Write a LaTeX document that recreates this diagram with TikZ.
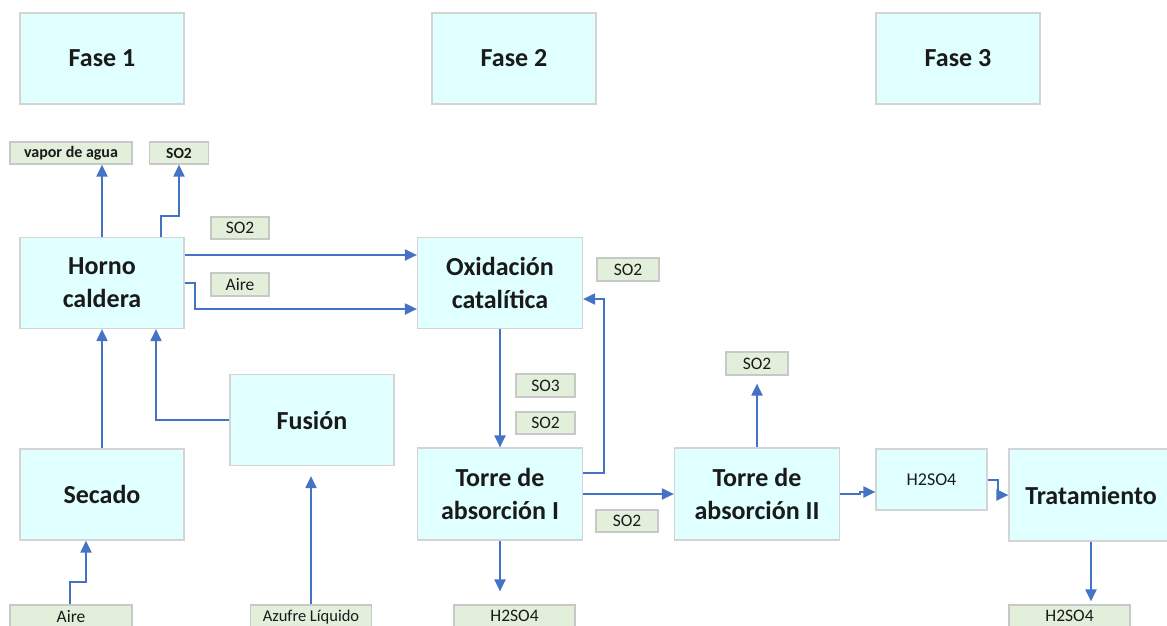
\documentclass[tikz,border=0pt]{standalone}
\usepackage{fontspec}
\setmainfont{Carlito}
\usetikzlibrary{arrows.meta}
\definecolor{boxfill}{HTML}{E0FFFF}
\definecolor{boxline}{HTML}{D4D4D4}
\definecolor{labfill}{HTML}{E2EFDA}
\definecolor{labline}{HTML}{C8C8C8}
\definecolor{arrblue}{HTML}{4472C4}
\definecolor{txt}{HTML}{1A1A1A}
\tikzset{
  stage/.style={draw=boxline, line width=1.2pt, fill=boxfill, minimum width=164pt, minimum height=91pt,
    inner sep=0pt, align=center, text=txt, font=\fontsize{26}{33}\selectfont\bfseries},
  lab/.style={draw=labline, line width=1.2pt, fill=labfill, minimum height=22pt,
    inner sep=0pt, align=center, text=txt, font=\fontsize{17.5}{20}\selectfont},
  labb/.style={lab, font=\fontsize{16}{19}\selectfont\bfseries},
  arr/.style={draw=arrblue, line width=2pt, -{Triangle[length=12pt,width=11pt]}, arrblue}
}
\begin{document}
\begin{tikzpicture}[x=1pt,y=-1pt]
\useasboundingbox (0,0) rectangle (1167,625);
\clip (0,0) rectangle (1167,625);
% phase headers
\node[stage] (f1) at (102,58.5) {Fase 1};
\node[stage] (f2) at (514,58.5) {Fase 2};
\node[stage] (f3) at (958,58.5) {Fase 3};
% process boxes
\node[stage] (horno) at (102,283) {Horno\\caldera};
\node[stage, minimum width=165pt] (oxid) at (500,283) {Oxidación\\catalítica};
\node[stage] (fusion) at (312,420) {Fusión};
\node[stage] (secado) at (102,494.5) {Secado};
\node[stage, minimum width=165pt, minimum height=92pt] (torre1) at (500,494) {Torre de\\absorción I};
\node[stage, minimum width=165pt, minimum height=92pt] (torre2) at (757,494) {Torre de\\absorción II};
\node[stage, minimum width=111pt, minimum height=61pt, font=\fontsize{18}{21}\selectfont] (hbox) at (931.5,479.5) {H2SO4};
\node[stage, minimum height=92pt] (trat) at (1091,495) {Tratamiento};
% labels
\node[labb, minimum width=122pt] (lvapor) at (71,153) {vapor de agua};
\node[labb, minimum width=59pt, font=\fontsize{15.5}{18}\selectfont\bfseries] (lso2a) at (179,153) {SO2};
\node[lab, minimum width=58pt] (lso2b) at (240,228) {SO2};
\node[lab, minimum width=58pt, minimum height=23pt] (laire) at (240,284.5) {Aire};
\node[lab, minimum width=62pt, minimum height=23pt] (lso2c) at (628,269.5) {SO2};
\node[lab, minimum width=59pt, minimum height=23pt] (lso3) at (545.5,385.5) {SO3};
\node[lab, minimum width=59pt] (lso2d) at (545.5,423) {SO2};
\node[lab, minimum width=62pt] (lso2e) at (627,521) {SO2};
\node[lab, minimum width=62pt, minimum height=23pt] (lso2f) at (757,363.5) {SO2};
\node[lab, minimum width=121pt, text depth=0pt] (lh2a) at (514.5,616) {H2SO4};
\node[lab, minimum width=122pt, text depth=0pt] (laire2) at (71,616) {Aire};
\node[lab, minimum width=121pt, text depth=0pt, font=\fontsize{16.5}{19}\selectfont] (lazufre) at (311,616) {Azufre Líquido};
\node[lab, minimum width=121pt, text depth=0pt] (lh2b) at (1069.5,616) {H2SO4};
% connectors
\draw[arr] (horno.north) -- (lvapor.south -| horno.north);
\draw[arr] ([xshift=59pt]horno.north) -- ++(0,-21) -| (lso2a.south);
\draw[arr] ([yshift=28pt]horno.east) -- ([yshift=28pt]oxid.west);
\draw[arr] (horno.east) -- ++(10,0) |- ([yshift=-26pt]oxid.west);
\draw[arr] (oxid.south) -- (torre1.north);
\draw[arr] ([yshift=21pt]torre1.east) -- ++(20.5,0) |- ([yshift=-16pt]oxid.east);
\draw[arr] (torre1.east) -- (torre1.east -| torre2.west);
\draw[arr, shorten >=13pt] (torre1.south) -- (torre1.south |- lh2a.north);
\draw[arr] (secado.north) -- (horno.south);
\draw[arr] (fusion.west) -| ([xshift=54pt]horno.south);
\draw[arr] ([xshift=-1pt]laire2.north) -- ++(0,-22) -| ([xshift=-16pt]secado.south);
\draw[arr, shorten >=10pt] (lazufre.north) -- (lazufre.north |- fusion.south);
\draw[arr, shorten >=8pt] (torre2.north) -- (torre2.north |- lso2f.south);
\draw[arr] (torre2.east) -- ++(20,0) -- ++(0,-2) -- ([yshift=-12.5pt]hbox.west);
\draw[arr] (hbox.east) -- ++(10,0) |- (trat.west);
\draw[arr, shorten >=3pt] (trat.south) -- (trat.south |- lh2b.north);
\end{tikzpicture}
\end{document}
